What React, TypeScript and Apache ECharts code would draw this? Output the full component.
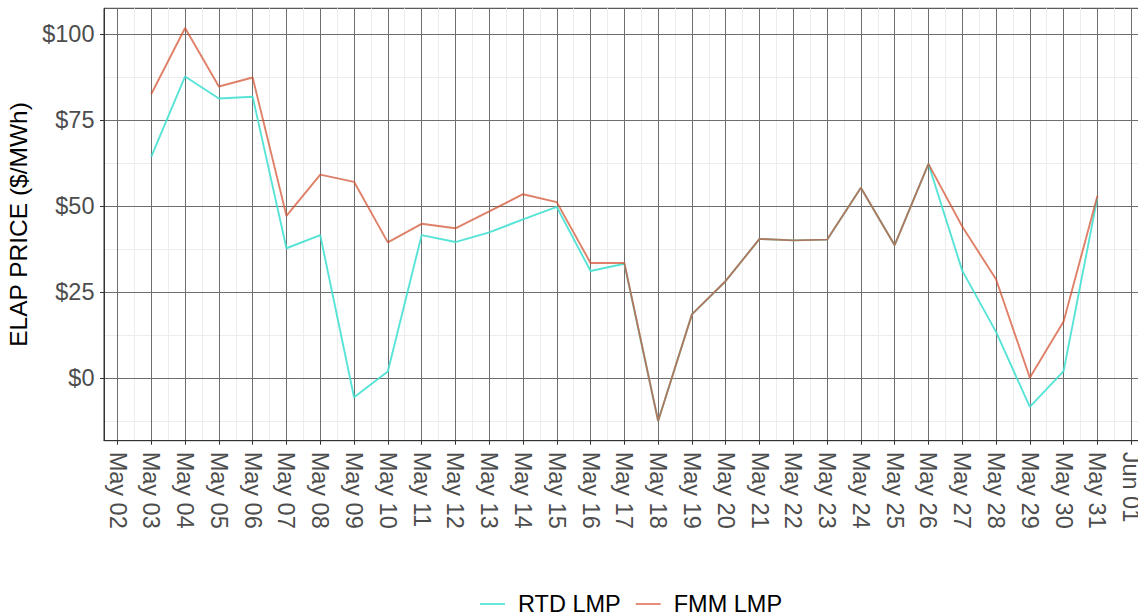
import React, { useEffect, useRef } from "react";
import * as echarts from "echarts";

const tickLabels = [
  "May 02", "May 03", "May 04", "May 05", "May 06", "May 07", "May 08", "May 09",
  "May 10", "May 11", "May 12", "May 13", "May 14", "May 15", "May 16", "May 17",
  "May 18", "May 19", "May 20", "May 21", "May 22", "May 23", "May 24", "May 25",
  "May 26", "May 27", "May 28", "May 29", "May 30", "May 31", "Jun 01",
];
// day index (0 = May 02) for each observation, May 03 .. May 31
const days = [1, 2, 3, 4, 5, 6, 7, 8, 9, 10, 11, 12, 13, 14, 15, 16, 17, 18, 19, 20, 21, 22, 23, 24, 25, 26, 27, 28, 29];
const rtdLmp = [64.4, 87.7, 81.3, 81.8, 37.8, 41.6, -5.5, 2.0, 41.6, 39.6, 42.4, 46.2, 49.8, 31.2, 33.3, -12.4, 18.6, 28.3, 40.5, 40.1, 40.3, 55.4, 38.7, 62.3, 31.3, 13.5, -8.3, 2.1, 52.5];
const fmmLmp = [82.6, 101.8, 84.8, 87.4, 47.2, 59.2, 57.1, 39.5, 44.9, 43.6, 48.5, 53.5, 51.2, 33.5, 33.5, -12.4, 18.6, 28.3, 40.5, 40.1, 40.3, 55.4, 38.7, 62.3, 44.1, 28.8, 0.2, 16.5, 53.0];
const yTicks = [0, 25, 50, 75, 100];
const yMinor = [-12.5, 12.5, 37.5, 62.5, 87.5];
const xTicks = tickLabels.map((_, i) => i);
const xMinor = tickLabels.slice(0, 30).map((_, i) => i + 0.5);

const FONT = "Liberation Sans, Arial, Helvetica, sans-serif";
const LINE_ICON = "path://M0,0 L25,0 L25,2 L0,2 Z";

export default function App() {
  const ref = useRef<HTMLDivElement>(null);
  useEffect(() => {
    if (!ref.current) return;
    const chart = echarts.init(ref.current, undefined, { renderer: "svg" });
    const xMin = -0.4;
    const xMax = 30.4;
    const yMin = -18.11;
    const yMax = 107.51;
    const option: any = {
      animation: false,
      backgroundColor: "#ffffff",
      textStyle: { fontFamily: FONT },
      grid: {
        left: 104,
        right: -6.7,
        top: 8.3,
        bottom: 175.3,
        show: true,
        borderColor: "#333333",
        borderWidth: 1,
        backgroundColor: "#ffffff",
        containLabel: false,
        outerBoundsMode: "none",
      },
      legend: {
        left: 475,
        top: 586,
        itemWidth: 25,
        itemHeight: 2,
        itemGap: 15,
        icon: LINE_ICON,
        textStyle: { fontSize: 23.5, lineHeight: 26, color: "#000000", fontFamily: FONT, padding: [0, 0, 0, 8] },
        data: [
          { name: "RTD LMP", icon: LINE_ICON, itemStyle: { color: "rgba(64,224,208,0.8)" } },
          { name: "FMM LMP", icon: LINE_ICON, itemStyle: { color: "rgba(210,74,42,0.62)" } },
        ],
      },
      xAxis: [
        {
          type: "value",
          min: xMin,
          max: xMax,
          axisLine: { show: true, onZero: false, lineStyle: { color: "#333333", width: 1 } },
          axisTick: { show: true, length: 4, lineStyle: { color: "#333333" }, customValues: xTicks },
          axisLabel: {
            customValues: xTicks,
            rotate: -90,
            margin: 11,
            fontSize: 23.5,
            color: "#4d4d4d",
            fontFamily: FONT,
            formatter: (v: number) => tickLabels[Math.round(v)] ?? "",
          },
          splitLine: { show: true, lineStyle: { color: "#6e6e6e", width: 1 } },
          z: 2,
        },
        {
          type: "value",
          min: xMin,
          max: xMax,
          position: "bottom",
          axisLine: { show: false },
          axisTick: { show: false, customValues: xMinor },
          axisLabel: { show: false, customValues: xMinor },
          splitLine: { show: true, lineStyle: { color: "#ededed", width: 1 } },
          z: 1,
        },
      ],
      yAxis: [
        {
          type: "value",
          min: yMin,
          max: yMax,
          name: "ELAP PRICE ($/MWh)",
          nameLocation: "middle",
          nameRotate: 90,
          nameGap: 61,
          nameTextStyle: { fontSize: 24.5, color: "#000000", fontFamily: FONT },
          axisLine: { show: true, onZero: false, lineStyle: { color: "#333333", width: 1 } },
          axisTick: { show: true, length: 4, lineStyle: { color: "#333333" }, customValues: yTicks },
          axisLabel: {
            customValues: yTicks,
            margin: 9.5,
            fontSize: 23.5,
            color: "#4d4d4d",
            fontFamily: FONT,
            formatter: (v: number) => "$" + Math.round(v),
          },
          splitLine: { show: true, lineStyle: { color: "#6e6e6e", width: 1 } },
          z: 2,
        },
        {
          type: "value",
          min: yMin,
          max: yMax,
          position: "left",
          axisLine: { show: false },
          axisTick: { show: false, customValues: yMinor },
          axisLabel: { show: false, customValues: yMinor },
          splitLine: { show: true, lineStyle: { color: "#ededed", width: 1 } },
          z: 1,
        },
      ],
      series: [
        {
          name: "RTD LMP",
          type: "line",
          xAxisIndex: 0,
          yAxisIndex: 0,
          data: days.map((d, i) => [d, rtdLmp[i]]),
          symbol: "none",
          showSymbol: false,
          lineStyle: { color: "#40e0d0", width: 1.9, opacity: 0.88 },
          itemStyle: { color: "#40e0d0" },
          z: 3,
        },
        {
          name: "FMM LMP",
          type: "line",
          xAxisIndex: 0,
          yAxisIndex: 0,
          data: days.map((d, i) => [d, fmmLmp[i]]),
          symbol: "none",
          showSymbol: false,
          lineStyle: { color: "#d24a2a", width: 1.9, opacity: 0.7 },
          itemStyle: { color: "#d24a2a" },
          z: 4,
        },
      ],
    };
    chart.setOption(option);
    return () => chart.dispose();
  }, []);
  return <div ref={ref} style={{ width: 1138, height: 616, position: "fixed", left: 0, top: 0 }} />;
}
